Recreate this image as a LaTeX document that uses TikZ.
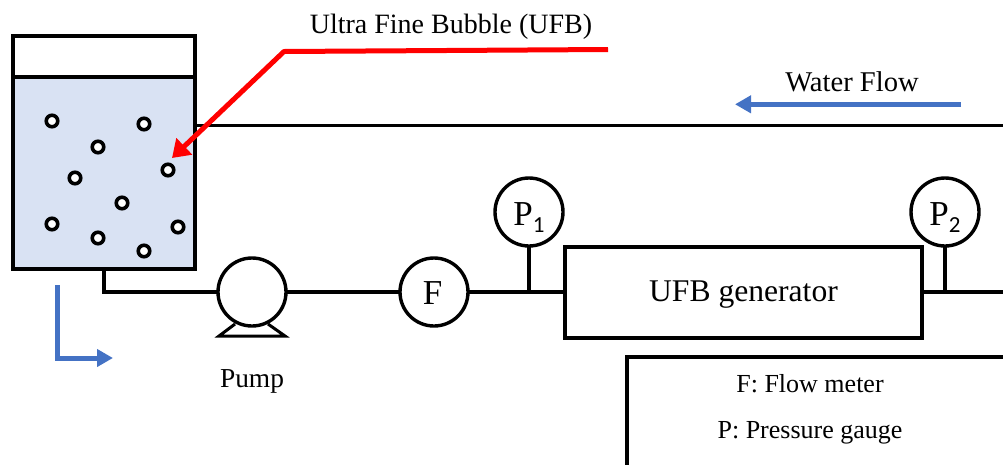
\documentclass[tikz,border=0pt]{standalone}
\usepackage{fontspec}
\setmainfont{Liberation Serif}
\newfontfamily\subfont{Carlito}
\usetikzlibrary{arrows.meta}
\definecolor{waterfill}{HTML}{D9E2F3}
\definecolor{flowblue}{HTML}{4472C4}
\definecolor{ufbred}{HTML}{FF0000}
\tikzset{
  pipe/.style={draw=black,line width=3.4pt},
  box/.style={draw=black,line width=4pt,rectangle,inner sep=0pt,outer sep=0pt},
  basefix/.style={text height=0pt,text depth=0pt},
  gauge/.style={draw=black,fill=white,line width=3.4pt,circle,inner sep=0pt,outer sep=0pt,minimum size=68pt,basefix},
  bubble/.style={draw=black,fill=white,line width=3.6pt,circle,inner sep=0pt,outer sep=0pt,minimum size=11.5pt},
  flowarrow/.style={draw=flowblue,line width=5pt,-{Triangle[length=16pt,width=17pt]}},
  redarrow/.style={draw=ufbred,line width=5pt,line join=round,-{Triangle[length=17pt,width=22pt]}},
  lbl/.style={inner sep=0pt,outer sep=0pt,text=black,anchor=base},
}
\newcommand{\gaugetext}[1]{\raisebox{-13pt}{\fontsize{35}{35}\selectfont P\raisebox{-7pt}{\subfont\fontsize{23}{23}\selectfont #1}}}
\begin{document}
\begin{tikzpicture}[x=1pt,y=-1pt]
\useasboundingbox (0,0) rectangle (1003,464);
\clip (0,0) rectangle (1003,464);
% legend, running off the picture
\node[box,minimum width=473pt,minimum height=163pt] (legend) at (863.5,438.5) {};
\node[lbl,font=\fontsize{26}{26}\selectfont] (legendF) at (810,392) {F: Flow meter};
\node[lbl,font=\fontsize{26}{26}\selectfont] (legendP) at (810,438) {P: Pressure gauge};
% tank
\node[box,minimum width=182.3pt,minimum height=41pt] (air) at (103.85,56.5) {};
\node[box,fill=waterfill,minimum width=182.3pt,minimum height=192pt] (water) at (103.85,173) {};
% nodes of the line
\node[gauge] (pump) at (252,292) {};
\node[gauge] (F) at (434,292) {\raisebox{-12pt}{\fontsize{35}{35}\selectfont F\kern3pt}};
\node[box,basefix,minimum width=357pt,minimum height=91pt] (gen) at (743.5,292) {\raisebox{-9pt}{\fontsize{31.6}{32}\selectfont UFB generator}};
\node[gauge] (P1) at (529,212) {\gaugetext{1}};
\node[gauge] (P2) at (945,212) {\gaugetext{2}};
\coordinate (topend) at (1003,125.7);
\coordinate (botend) at (1003,292);
\coordinate (bend) at (103.85,292);
\coordinate (j1) at (529,292);
\coordinate (j2) at (945,292);
% pipes
\draw[pipe] (water.east |- topend) -- (topend);
\draw[pipe,line join=miter] (water.south) -- (bend) -- (pump.west);
\draw[pipe] (pump.east) -- (F.west);
\draw[pipe] (F.east) -- (gen.west);
\draw[pipe] (gen.east) -- (botend);
\draw[pipe] (P1.south) -- (j1);
\draw[pipe] (P2.south) -- (j2);
% pump feet
\draw[line width=3pt,line join=miter] (235,324) -- (219,336) -- (285,336) -- (268,324);
% bubbles
\foreach \n/\x/\y in {a/52/121,b/144/124,c/98/147,d/75/178,e/168/170,f/122/203,g/52/224,h/98/238,i/144/251,j/178/227}
  \node[bubble] (bub\n) at (\x,\y) {};
% red pointer
\coordinate (redstart) at (608,49.5);
\coordinate (redbend) at (284,51.5);
\coordinate (redtip) at (172,158);
\draw[redarrow] (redstart) -- (redbend) -- (redtip);
% blue arrows
\coordinate (flowstart) at (961,104.3);
\coordinate (flowend) at (735,104.3);
\draw[flowarrow] (flowstart) -- (flowend);
\coordinate (drainstart) at (57,285);
\coordinate (drainbend) at (57,358);
\coordinate (drainend) at (113,358);
\draw[flowarrow,line join=miter] (drainstart) -- (drainbend) -- (drainend);
% labels
\node[lbl,font=\fontsize{28}{28}\selectfont] (ufb) at (451,33.5) {Ultra Fine Bubble (UFB)};
\node[lbl,font=\fontsize{28.6}{28}\selectfont] (wf) at (852,91) {Water Flow};
\node[lbl,font=\fontsize{27.4}{28}\selectfont] (pl) at (252,387) {Pump};
\end{tikzpicture}
\end{document}
